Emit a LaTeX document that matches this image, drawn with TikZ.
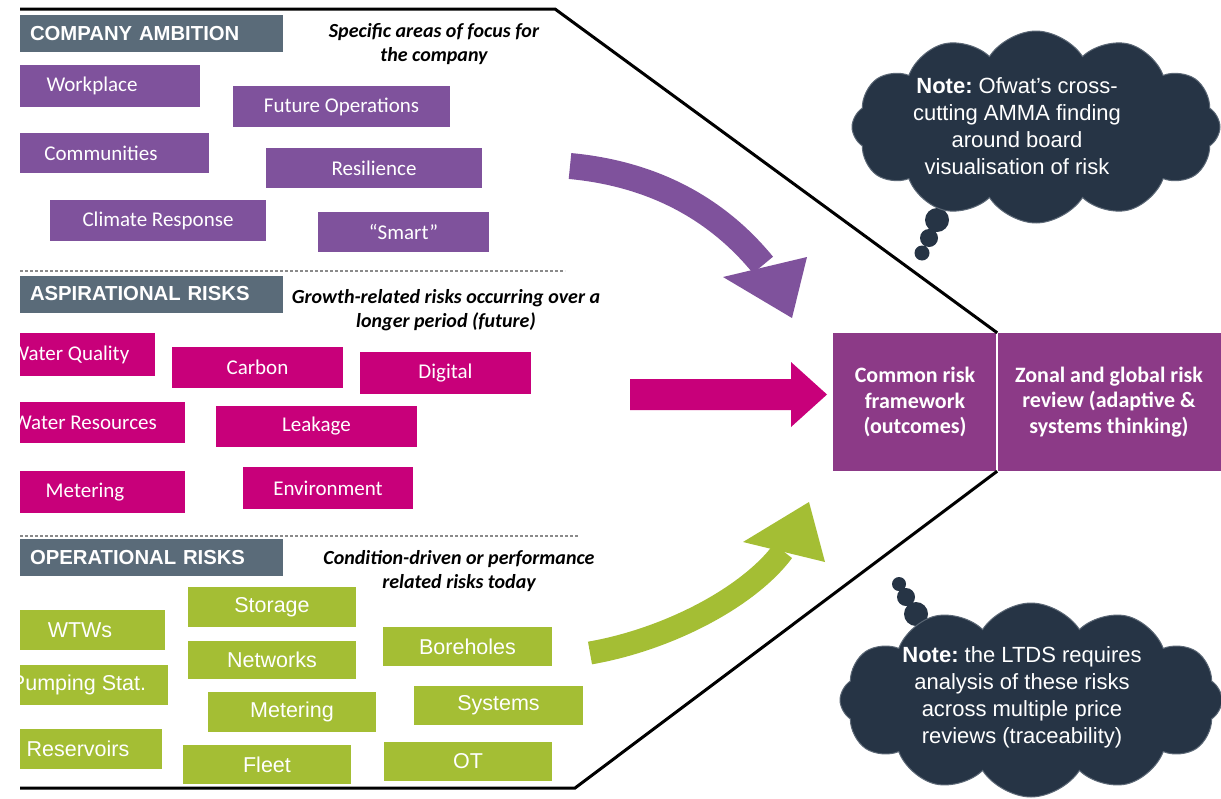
\documentclass[tikz,border=0pt]{standalone}
\usepackage{fontspec}
\setmainfont{Carlito}
\newfontfamily\arialfont{Liberation Sans}
\usetikzlibrary{shapes.symbols}

\definecolor{ambition}{HTML}{7F529C}
\definecolor{aspire}{HTML}{C8007A}
\definecolor{operate}{HTML}{A4BE34}
\definecolor{slate}{HTML}{5A6B79}
\definecolor{core}{HTML}{8C3A87}
\definecolor{note}{HTML}{263445}
\definecolor{noteedge}{HTML}{5C6876}
\definecolor{rulegray}{HTML}{8A8A8A}

% box given by its corners: name, style, x1, y1, x2, y2, text
\newcommand\riskbox[7]{%
  \node[#2, minimum width={#5-#3}, minimum height={#6-#4}] (#1)
    at ({(#3+#5)/2},{(#4+#6)/2}) {#7};}

\begin{document}
\begin{tikzpicture}[x=1pt, y=-1pt,
  tile/.style={rectangle, inner sep=0pt, text=white},
  ambtile/.style={tile, fill=ambition, font=\fontsize{21}{25}\selectfont},
  asptile/.style={tile, fill=aspire, font=\fontsize{21}{25}\selectfont},
  optile/.style={tile, fill=operate, font=\arialfont\fontsize{21.5}{25}\selectfont},
  header/.style={rectangle, fill=slate, text=white, inner ysep=0pt, inner xsep=10pt,
    text width=243pt, align=left, minimum height=37pt,
    font=\arialfont\bfseries\fontsize{20.3}{24}\selectfont},
  remark/.style={align=center, inner sep=0pt,
    font=\bfseries\itshape\fontsize{20}{24}\selectfont},
  corebox/.style={rectangle, fill=core, text=white, align=center, inner sep=0pt,
    minimum height=138pt, font=\bfseries\fontsize{22}{25.5}\selectfont},
  notecloud/.style={cloud, cloud puffs=12, cloud puff arc=115, cloud ignores aspect,
    fill=note, draw=noteedge, line width=1pt, inner sep=0pt},
  notetext/.style={align=center, inner sep=0pt, text=white,
    font=\arialfont\frenchspacing\fontsize{22}{27}\selectfont},
  divider/.style={rulegray, line width=1.4pt, dash pattern=on 3pt off 2pt},
  frame/.style={line width=3pt, line join=miter}
]
\useasboundingbox (0,0) rectangle (1221,798);

% central framework boxes
\node[corebox, minimum width=164pt] (common) at (915,402)
  {Common risk\\framework\\(outcomes)};
\node[corebox, minimum width=224pt] (zonal) at (1109,402)
  {Zonal and global risk\\review (adaptive \&\\systems thinking)};
\draw[white, line width=2pt] (common.north east) -- (common.south east);

% chevron outline
\coordinate (topleft) at (20,9);
\coordinate (topbend) at (555,9);
\coordinate (botbend) at (575,788);
\coordinate (botleft) at (20,788);
\draw[frame] (topleft) -- (topbend) -- (common.north east);
\draw[frame] (common.south east) -- (botbend) -- (botleft);

% section dividers
\draw[divider] (20,271) -- (565,271);
\draw[divider] (20,536) -- (578,536);

\begin{scope}
\clip (20,0) rectangle (1221,798);
% section headers
\node[header] (hamb) at ({(20+283)/2},33.5) {COMPANY AMBITION};
\node[header] (hasp) at ({(20+283)/2},294) {ASPIRATIONAL RISKS};
\node[header] (hop)  at ({(20+283)/2},557.5) {OPERATIONAL RISKS};

% company ambition
\riskbox{workplace}{ambtile}{-16}{65}{200}{107}{Workplace}
\riskbox{futureops}{ambtile}{233}{86}{450}{127}{Future Operations}
\riskbox{communities}{ambtile}{-7}{133}{209}{173}{Communities}
\riskbox{resilience}{ambtile}{266}{148}{482}{188}{Resilience}
\riskbox{climate}{ambtile}{50}{200}{266}{241}{Climate Response}
\riskbox{smart}{ambtile}{318}{212}{489}{252}{“Smart”}

% aspirational risks
\riskbox{waterq}{asptile}{-15}{333}{155}{376}{Water Quality}
\riskbox{carbon}{asptile}{172}{347}{343}{388}{Carbon}
\riskbox{digital}{asptile}{360}{352}{531}{394}{Digital}
\riskbox{waterr}{asptile}{-15}{402}{185}{443}{Water Resources}
\riskbox{leakage}{asptile}{216}{406}{417}{447}{Leakage}
\riskbox{ametering}{asptile}{-15}{471}{185}{513}{Metering}
\riskbox{environment}{asptile}{243}{467}{413}{509}{Environment}

% operational risks
\riskbox{wtws}{optile}{-5}{610}{165}{650}{WTWs}
\riskbox{storage}{optile}{188}{587}{356}{627}{Storage}
\riskbox{networks}{optile}{188}{641}{356}{679}{Networks}
\riskbox{boreholes}{optile}{383}{627}{552}{666}{Boreholes}
\riskbox{pumping}{optile}{-11}{665}{168}{705}{Pumping Stat.}
\riskbox{ometering}{optile}{208}{692}{376}{732}{Metering}
\riskbox{systems}{optile}{414}{686}{583}{725}{Systems}
\riskbox{reservoirs}{optile}{-6}{729}{162}{769}{Reservoirs}
\riskbox{fleet}{optile}{183}{745}{351}{784}{Fleet}
\riskbox{ot}{optile}{384}{742}{552}{781}{OT}
\end{scope}

% section descriptions
\node[remark] (ramb) at (434,44) {Specific areas of focus for\\the company};
\node[remark] (rasp) at (446,310.5) {Growth-related risks occurring over a\\longer period (future)};
\node[remark] (rop)  at (459,571.5) {Condition-driven or performance\\related risks today};

% flow arrows into the framework
\coordinate (ptail) at (570,166);
\coordinate (pend) at (763,265);
\draw[ambition, line width=26pt] (ptail) .. controls (655,174) and (718,210) .. (pend);
\fill[ambition] (723,277) -- (807,257) -- (792,318) -- cycle;

\coordinate (mtail) at (630,394.5);
\fill[aspire] (630,379) -- (791,379) -- (791,362) -- (827,394.5) -- (791,427)
  -- (791,410) -- (630,410) -- cycle;

\coordinate (gtail) at (590,653);
\coordinate (gend) at (783,551);
\draw[operate, line width=23pt] (gtail) .. controls (665,640) and (747,599) .. (gend);
\fill[operate] (743,542) -- (825,562) -- (809,502) -- cycle;

% notes with their thought-bubble tails
\fill[note] (937,220) circle (12) (929,238) circle (9) (922,253) circle (7.5);
\node[notecloud, minimum width=368pt, minimum height=192pt] (cloudA) at (1036,127) {};
\node[notetext] (noteA) at (1017,126)
  {\textbf{Note:} Ofwat’s cross-\\cutting AMMA finding\\around board\\visualisation of risk};

\fill[note] (899,584) circle (7) (906,597) circle (9) (916,614) circle (12);
\node[notecloud, minimum width=382pt, minimum height=194pt] (cloudB) at (1031,700) {};
\node[notetext] (noteB) at (1022,697)
  {\textbf{Note:} the LTDS requires\\analysis of these risks\\across multiple price\\reviews (traceability)};
\end{tikzpicture}
\end{document}
